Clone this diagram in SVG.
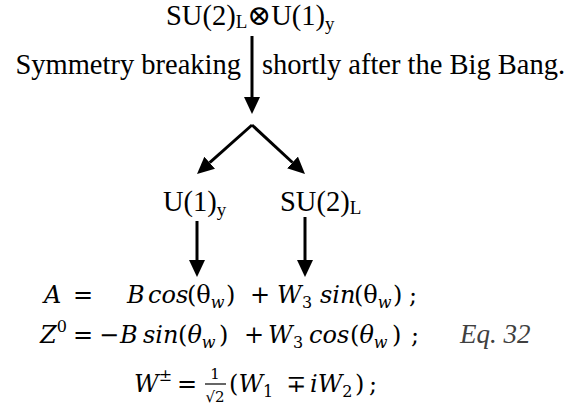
<svg xmlns="http://www.w3.org/2000/svg" width="575" height="419" viewBox="0 0 575 419">
<defs>
<marker id="ah" markerUnits="userSpaceOnUse" markerWidth="17" markerHeight="16" viewBox="0 0 17 16" refX="0" refY="8" orient="auto"><path d="M0,0 L17,8 L0,16 z" fill="#000"/></marker>
</defs>
<style>
.t{font-family:"Liberation Serif","DejaVu Serif",serif;font-size:28.5px;fill:#000}
.m{font-family:"DejaVu Serif","Liberation Serif",serif;font-size:24px;fill:#000}
.i{font-style:italic}
.s{font-size:19px}
.ms{font-size:16px}
.c{stroke:#000;stroke-width:3;fill:none;marker-end:url(#ah)}
.eq{font-family:"Liberation Serif",serif;font-style:italic;font-size:27px;fill:#404040}
</style>
<rect width="575" height="419" fill="#fff"/>
<g id="title"><text class="t" x="166" y="25">SU(2)<tspan class="s" dy="3">L</tspan><tspan dy="-3">⊗</tspan>U(1)<tspan class="s" dy="5">y</tspan></text></g>
<g id="breaking"><text class="t" x="241" y="74" text-anchor="end">Symmetry breaking</text><text class="t" x="262" y="74">shortly after the Big Bang.</text></g>
<g id="u1"><text class="t" x="163" y="211">U(1)<tspan class="s" dy="5">y</tspan></text></g>
<g id="su2"><text class="t" x="280" y="211">SU(2)<tspan class="s" dy="3">L</tspan></text></g>
<g id="connectors">
<line class="c" x1="252" y1="36" x2="252" y2="97"/>
<line class="c" x1="252" y1="125" x2="209.7" y2="162.7"/>
<line class="c" x1="252" y1="125" x2="292.5" y2="162.5"/>
<line class="c" x1="197" y1="221" x2="197" y2="260"/>
<line class="c" x1="305" y1="217" x2="305" y2="260"/>
</g>
<g id="eqA"><text class="m" y="303"><tspan class="i" x="44">A</tspan><tspan x="73">=</tspan><tspan class="i" x="127">B</tspan><tspan class="i" x="148">cos</tspan><tspan x="187">(θ</tspan><tspan class="i ms" dy="5">w</tspan><tspan x="226" dy="-5">)</tspan><tspan x="250">+</tspan><tspan class="i" x="277">W</tspan><tspan class="ms" x="302" dy="5">3</tspan><tspan class="i" x="320" dy="-5">sin</tspan><tspan x="354">(θ</tspan><tspan class="i ms" dy="5">w</tspan><tspan x="393" dy="-5">)</tspan><tspan x="409">;</tspan></text></g>
<g id="eqZ"><text class="m" y="343"><tspan class="i" x="40">Z</tspan><tspan class="ms" dy="-11">0</tspan><tspan x="73" dy="11">=</tspan><tspan x="99">−</tspan><tspan class="i" x="120">B</tspan><tspan class="i" x="143">sin</tspan><tspan x="178">(</tspan><tspan class="i">θ</tspan><tspan class="i ms" dy="5">w</tspan><tspan x="219" dy="-5">)</tspan><tspan x="244">+</tspan><tspan class="i" x="268">W</tspan><tspan class="ms" x="293" dy="5">3</tspan><tspan class="i" x="309" dy="-5">cos</tspan><tspan x="350">(</tspan><tspan class="i">θ</tspan><tspan class="i ms" dy="5">w</tspan><tspan x="392" dy="-5">)</tspan><tspan x="411">;</tspan></text><text class="eq" x="460" y="343">Eq. 32</text></g>
<g id="eqW"><text class="m" y="392"><tspan class="i" x="134">W</tspan><tspan class="ms" dy="-11">±</tspan></text>
<text class="m" x="177" y="392">=</text>
<text class="m" y="392"><tspan x="229">(</tspan><tspan class="i">W</tspan><tspan class="ms" dy="5">1</tspan><tspan x="286" dy="-5">∓</tspan><tspan class="i" x="310">i</tspan><tspan class="i">W</tspan><tspan class="ms" dy="5">2</tspan><tspan x="355" dy="-5">)</tspan><tspan x="369">;</tspan></text>
<text class="m" style="font-size:15px" x="215" y="379" text-anchor="middle">1</text>
<line x1="205" y1="384" x2="226" y2="384" stroke="#000" stroke-width="1.2"/>
<text class="m" style="font-size:15px" x="215" y="402" text-anchor="middle">√2</text></g>
</svg>
